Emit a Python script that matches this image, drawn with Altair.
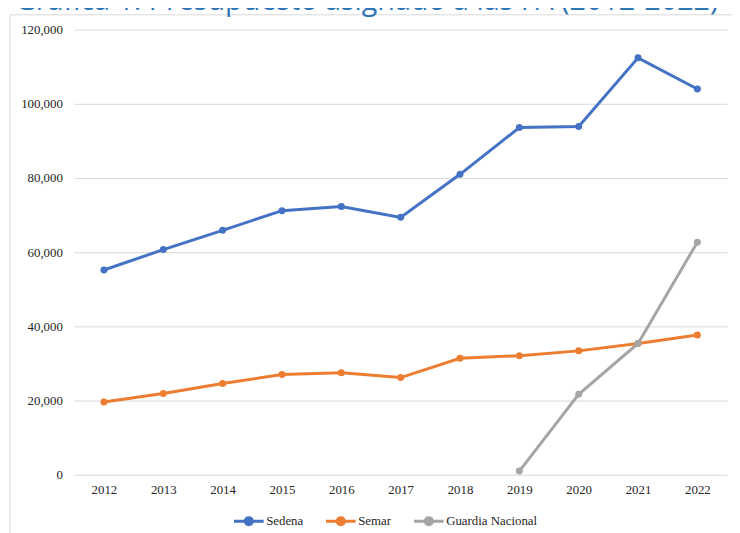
import altair as alt
import pandas as pd

years = ["2012", "2013", "2014", "2015", "2016", "2017", "2018", "2019", "2020", "2021", "2022"]
sedena = [55200, 60700, 65900, 71200, 72300, 69400, 81000, 93600, 93900, 112400, 104000]
semar = [19600, 21900, 24600, 27000, 27500, 26200, 31400, 32100, 33400, 35400, 37700]
guardia = [None, None, None, None, None, None, None, 1000, 21700, 35400, 62700]
series = ["Sedena", "Semar", "Guardia Nacional"]
colors = ["#4472C4", "#ED7D31", "#A5A5A5"]
y_ticks = [0, 20000, 40000, 60000, 80000, 100000, 120000]
title_text = "Gráfica 1. Presupuesto asignado a las FA (2012-2022)"

rows = []
for name, vals in zip(series, [sedena, semar, guardia]):
    for yr, v in zip(years, vals):
        if v is not None:
            rows.append({"Año": yr, "Serie": name, "Valor": v})
df = pd.DataFrame(rows)

legend_path = "M-1,0L1,0M-0.24,0A0.24,0.24,0,1,0,0.24,0A0.24,0.24,0,1,0,-0.24,0Z"
serif = "Liberation Serif"

lines = alt.Chart(df).mark_line(
    strokeWidth=3,
    point=alt.OverlayMarkDef(filled=True, size=50),
).encode(
    x=alt.X("Año:O", sort=years, title=None,
            axis=alt.Axis(labelAngle=0, domain=False, ticks=False, labelPadding=9,
                          labelFont=serif, labelFontSize=13,
                          labelColor="#262626", grid=False)),
    y=alt.Y("Valor:Q", title=None,
            scale=alt.Scale(domain=[0, 120000], nice=False),
            axis=alt.Axis(values=y_ticks, format=",.0f", domain=False, ticks=False,
                          labelPadding=12, gridColor="#D9D9D9", gridWidth=1,
                          labelFont=serif, labelFontSize=13,
                          labelColor="#262626")),
    color=alt.Color("Serie:N", sort=series,
                    scale=alt.Scale(domain=series, range=colors),
                    legend=alt.Legend(title=None, orient="none", direction="horizontal",
                                      legendX=160, legendY=480,
                                      symbolType=legend_path, symbolSize=900,
                                      symbolStrokeWidth=3, labelOffset=1,
                                      columnPadding=16,
                                      labelFont=serif, labelFontSize=13,
                                      labelColor="#262626")),
)

frame = alt.Chart(pd.DataFrame({"k": [0]})).mark_rect(
    fill=None, stroke="#D9D9D9", strokeWidth=1
).encode(
    x=alt.value(-65), x2=alt.value(720), y=alt.value(-15), y2=alt.value(560)
)

title = alt.Chart(pd.DataFrame({"t": [title_text]})).mark_text(
    align="left", baseline="alphabetic", font="Open Sans", fontSize=29,
    color="#2E75B6"
).encode(
    text="t:N", x=alt.value(-60), y=alt.value(-20)
)

chart = alt.layer(frame, lines, title).properties(
    width=660, height=450,
    autosize=alt.AutoSizeParams(type="none"),
    padding={"left": 67, "top": 19, "right": 5, "bottom": 56},
).configure_view(stroke=None)

chart.save("out.html", embed_options={"renderer": "svg", "actions": False})
